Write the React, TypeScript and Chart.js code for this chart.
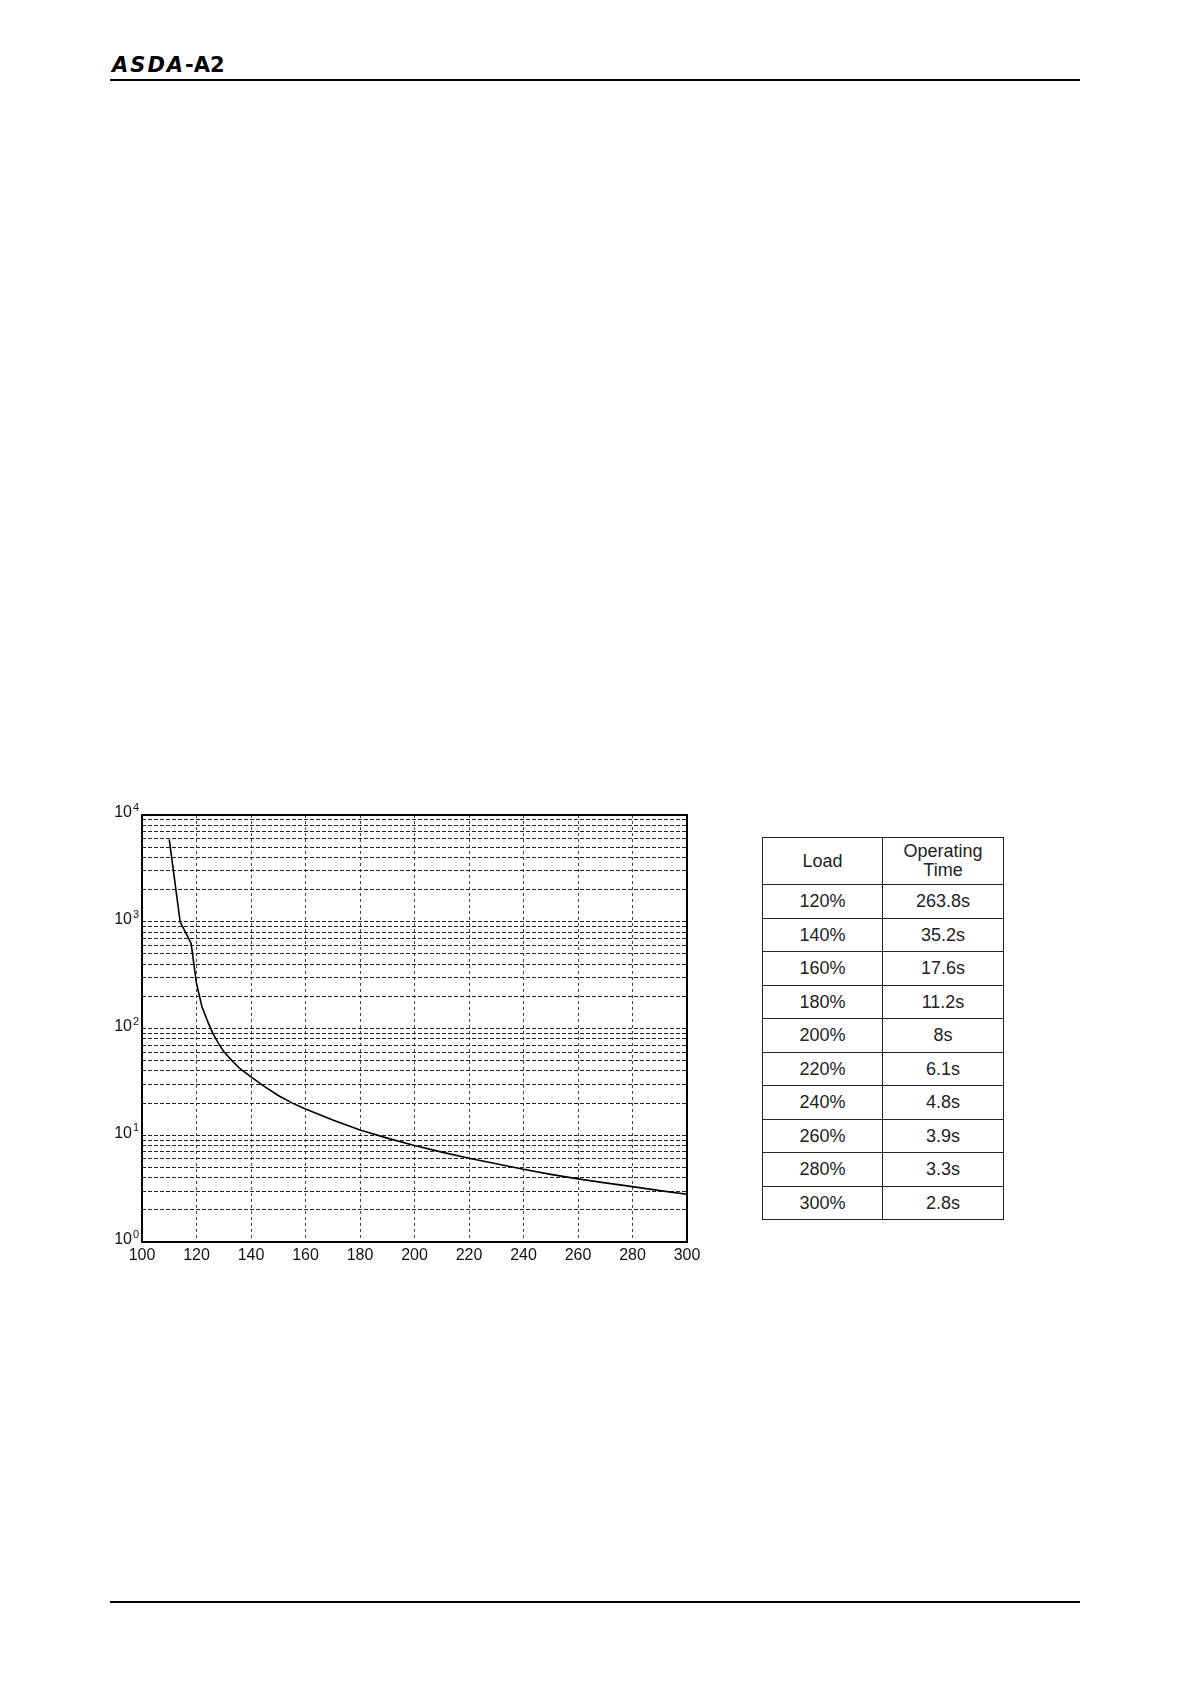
import React, { useEffect, useRef } from "react";
import { Chart, registerables } from "chart.js";

Chart.register(...registerables);

// ---- Data ----
const X_LOAD = [110, 114, 118, 120, 122, 124, 126, 128, 130, 133, 136, 140, 145, 150, 155, 160, 170, 180, 190, 200, 210, 220, 230, 240, 250, 260, 270, 280, 290, 300];
const Y_TIME = [5900, 1000, 630, 263.8, 160, 118, 90, 73, 61, 50, 42, 35.2, 28.5, 23.6, 20.1, 17.6, 13.9, 11.2, 9.4, 8, 6.95, 6.1, 5.4, 4.8, 4.3, 3.9, 3.58, 3.3, 3.03, 2.8];

const X_MIN = 100;
const X_MAX = 300;
const X_STEP = 20;
const Y_DECADES = [1, 10, 100, 1000, 10000];
const Y_TICK_BASE = "10";
const Y_EXPONENTS = ["0", "1", "2", "3", "4"];
const Y_MINOR = [1, 2, 3, 4, 5, 6, 7, 8, 9];

const TABLE_HEAD = ["Load", "Operating\nTime"];
const TABLE_LOAD = ["120%", "140%", "160%", "180%", "200%", "220%", "240%", "260%", "280%", "300%"];
const TABLE_TIME = ["263.8s", "35.2s", "17.6s", "11.2s", "8s", "6.1s", "4.8s", "3.9s", "3.3s", "2.8s"];

const FONT = "'Liberation Sans', Arial, Helvetica, sans-serif";

export default function App() {
  const canvasRef = useRef<HTMLCanvasElement | null>(null);

  useEffect(() => {
    const canvas = canvasRef.current;
    if (!canvas) return;

    const yTickValues: number[] = [];
    for (let d = 0; d < Y_DECADES.length - 1; d++) {
      for (const m of Y_MINOR) yTickValues.push(Y_DECADES[d] * m);
    }
    yTickValues.push(Y_DECADES[Y_DECADES.length - 1]);

    const framePlugin = {
      id: "frame",
      afterDraw(chart: any) {
        const { ctx, chartArea } = chart;
        ctx.save();
        ctx.strokeStyle = "#000";
        ctx.lineWidth = 2;
        ctx.setLineDash([]);
        ctx.strokeRect(chartArea.left, chartArea.top, chartArea.right - chartArea.left, chartArea.bottom - chartArea.top);
        // exponents of the y tick labels
        const yScale = chart.scales.y;
        ctx.fillStyle = "#111";
        ctx.font = `11px ${FONT}`;
        ctx.textAlign = "left";
        ctx.textBaseline = "alphabetic";
        Y_DECADES.forEach((v, i) => {
          const py = yScale.getPixelForValue(v);
          ctx.fillText(Y_EXPONENTS[i], chartArea.left - 9, py - 4);
        });
        ctx.restore();
      },
    };

    const chart = new Chart(canvas, {
      type: "line",
      data: {
        datasets: [
          {
            data: X_LOAD.map((x, i) => ({ x, y: Y_TIME[i] })),
            borderColor: "#000",
            borderWidth: 1.6,
            pointRadius: 0,
            tension: 0,
            fill: false,
          },
        ],
      },
      options: {
        animation: false,
        responsive: false,
        devicePixelRatio: 1,
        layout: { padding: { left: 0, top: 25, right: 23, bottom: 0 } },
        plugins: { legend: { display: false }, tooltip: { enabled: false } },
        scales: {
          x: {
            type: "linear",
            min: X_MIN,
            max: X_MAX,
            ticks: {
              stepSize: X_STEP,
              color: "#111",
              font: { family: FONT, size: 16 },
              padding: 4,
              maxRotation: 0,
              autoSkip: false,
            },
            grid: { color: "#444", lineWidth: 1, drawTicks: false },
            border: { display: false, dash: [3, 3] },
            afterFit(scale: any) {
              scale.height = 38;
            },
          },
          y: {
            type: "logarithmic",
            min: 1,
            max: 10000,
            afterBuildTicks(scale: any) {
              scale.ticks = yTickValues.map((v) => ({ value: v }));
            },
            ticks: {
              autoSkip: false,
              color: "#111",
              font: { family: FONT, size: 16 },
              padding: 10,
              labelOffset: -2,
              callback(value: any) {
                return Y_DECADES.indexOf(Number(value)) >= 0 ? Y_TICK_BASE : "";
              },
            },
            grid: { color: "#222", lineWidth: 1, drawTicks: false },
            border: { display: false, dash: [4, 2] },
            afterFit(scale: any) {
              scale.width = 52;
            },
          },
        },
      },
      plugins: [framePlugin],
    } as any);

    return () => chart.destroy();
  }, []);

  const cellBorder = "1.5px solid #222";
  const rowH = 33.5;

  return (
    <div
      style={{
        position: "absolute",
        left: 0,
        top: 0,
        width: 1190,
        height: 1684,
        background: "#fff",
        fontFamily: FONT,
        color: "#111",
      }}
    >
      {/* Header logo */}
      <div
        style={{
          position: "absolute",
          left: 112,
          top: 55,
          fontSize: 21,
          lineHeight: "21px",
          fontWeight: 700,
          whiteSpace: "nowrap",
          color: "#000",
          fontFamily: "'DejaVu Sans', sans-serif",
        }}
      >
        <span style={{ fontStyle: "italic", letterSpacing: 2 }}>ASDA</span>
        <span>-A2</span>
      </div>
      <div style={{ position: "absolute", left: 110, top: 79, width: 970, height: 1.5, background: "#000" }} />

      {/* Chart */}
      <canvas
        ref={canvasRef}
        width={620}
        height={490}
        style={{ position: "absolute", left: 90, top: 790, width: 620, height: 490 }}
      />

      {/* Table */}
      <table
        style={{
          position: "absolute",
          left: 762,
          top: 837,
          width: 241,
          borderCollapse: "collapse",
          tableLayout: "fixed",
          fontSize: 18,
          color: "#222",
          fontFamily: FONT,
        }}
      >
        <colgroup>
          <col style={{ width: 120 }} />
          <col style={{ width: 121 }} />
        </colgroup>
        <tbody>
          <tr style={{ height: 47 }}>
            {TABLE_HEAD.map((h, i) => (
              <td
                key={i}
                style={{
                  border: cellBorder,
                  textAlign: "center",
                  padding: 0,
                  lineHeight: "19px",
                  whiteSpace: "pre-line",
                  verticalAlign: "middle",
                }}
              >
                {h}
              </td>
            ))}
          </tr>
          {TABLE_LOAD.map((load, i) => (
            <tr key={load} style={{ height: rowH }}>
              <td style={{ border: cellBorder, textAlign: "center", padding: 0, lineHeight: "20px" }}>{load}</td>
              <td style={{ border: cellBorder, textAlign: "center", padding: 0, lineHeight: "20px" }}>{TABLE_TIME[i]}</td>
            </tr>
          ))}
        </tbody>
      </table>

      {/* Footer line */}
      <div style={{ position: "absolute", left: 110, top: 1601, width: 970, height: 1.5, background: "#000" }} />
    </div>
  );
}
